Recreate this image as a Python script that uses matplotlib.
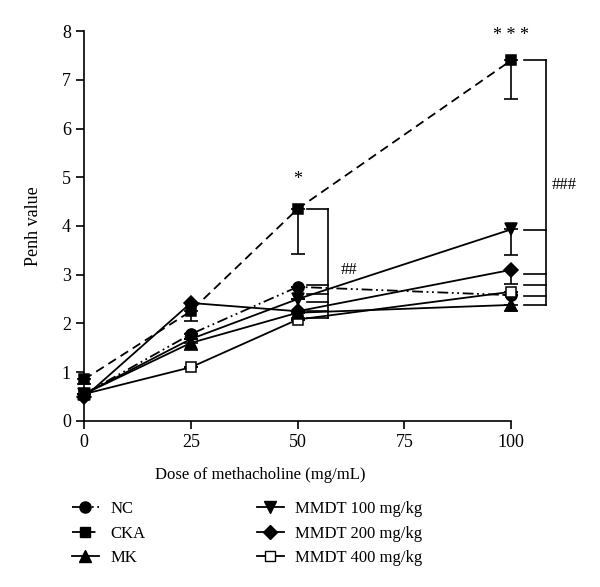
import matplotlib
matplotlib.use("Agg")
import matplotlib.pyplot as plt
from matplotlib.lines import Line2D

plt.rcParams["font.family"] = ["Liberation Serif", "DejaVu Serif"]

# Data
dose = [0, 25, 50, 100]
nc = [0.55, 1.78, 2.75, 2.58]
cka = [0.85, 2.25, 4.35, 7.4]
mk = [0.55, 1.6, 2.22, 2.38]
mmdt100 = [0.55, 1.68, 2.5, 3.93]
mmdt200 = [0.48, 2.42, 2.25, 3.1]
mmdt400 = [0.55, 1.1, 2.08, 2.65]

# lower error bars (SEM)
nc_err = [0.0, 0.1, 0.0, 0.0]
cka_err = [0.1, 0.2, 0.93, 0.8]
mk_err = [0.0, 0.15, 0.1, 0.13]
mmdt100_err = [0.0, 0.0, 0.0, 0.53]
mmdt200_err = [0.0, 0.0, 0.0, 0.3]
mmdt400_err = [0.0, 0.0, 0.0, 0.0]

labels = ["NC", "CKA", "MK", "MMDT 100 mg/kg", "MMDT 200 mg/kg", "MMDT 400 mg/kg"]

# significance brackets
bracket50 = [4.35, 2.78, 2.6, 2.45, 2.25, 2.12]
bracket100 = [7.4, 3.92, 3.02, 2.79, 2.57, 2.37]

fig = plt.figure(figsize=(6.0, 5.87), dpi=100)
ax = fig.add_axes([0.14, 0.283, 0.712, 0.664])

series = [
    (nc, nc_err, "o", "black", (0, (6, 2, 1, 2, 1, 2))),
    (cka, cka_err, "s", "black", (0, (5, 3))),
    (mk, mk_err, "^", "black", "-"),
    (mmdt100, mmdt100_err, "v", "black", "-"),
    (mmdt200, mmdt200_err, "D", "black", "-"),
    (mmdt400, mmdt400_err, "s", "white", "-"),
]
marker_size = {"o": 8, "s": 7.8, "^": 9, "v": 9, "D": 7.5}
# drawing order: open squares underneath, diamonds on top
draw_order = [0, 5, 1, 2, 3, 4]

handles = [None] * len(series)
for z, i in enumerate(draw_order):
    vals, err, mk_, fc, ls = series[i]
    ms = marker_size[mk_]
    ax.errorbar(dose, vals, yerr=[err, [0] * len(err)], fmt="none", ecolor="black",
                elinewidth=1.2, capsize=5, capthick=1.2, clip_on=False, zorder=2)
    ax.plot(dose, vals, linestyle=ls, color="black", lw=1.3, marker=mk_,
            markersize=ms, markerfacecolor=fc, markeredgecolor="black",
            markeredgewidth=1.1, clip_on=False, zorder=3 + z)
    handles[i] = Line2D([], [], linestyle=ls, color="black", lw=1.3, marker=mk_,
                        markersize=ms, markerfacecolor=fc, markeredgecolor="black")


def bracket(vals, x0, x1):
    for v in vals:
        ax.plot([x0, x1], [v, v], color="black", lw=1.2, clip_on=False)
    ax.plot([x1, x1], [min(vals), max(vals)], color="black", lw=1.2, clip_on=False)


bracket(bracket50, 52.2, 57.1)
bracket(bracket100, 103.0, 108.2)

ax.text(50, 4.95, "*", ha="center", va="center", fontsize=13)
ax.text(100, 7.9, "* * *", ha="center", va="center", fontsize=13)
ax.text(62, 3.1, "##", ha="center", va="center", fontsize=12)
ax.text(112.5, 4.85, "###", ha="center", va="center", fontsize=12)

ax.set_xlim(0, 100)
ax.set_ylim(0, 8)
ax.set_xticks([0, 25, 50, 75, 100])
ax.set_yticks(range(0, 9))
ax.spines["top"].set_visible(False)
ax.spines["right"].set_visible(False)
ax.spines["left"].set_linewidth(1.2)
ax.spines["bottom"].set_linewidth(1.2)
ax.tick_params(direction="out", length=6, width=1.2, labelsize=13)
ax.set_xlabel("Dose of methacholine (mg/mL)", fontsize=12)
ax.xaxis.set_label_coords(0.412, -0.118)
ax.set_ylabel("Penh value", fontsize=13, labelpad=14)

fig.legend(handles, labels, loc="upper left", bbox_to_anchor=(0.12, 0.146),
           ncol=2, frameon=False, fontsize=12, handlelength=1.6,
           columnspacing=6.7, labelspacing=0.5, handletextpad=0.7,
           borderpad=0, borderaxespad=0)

fig.savefig("out.png", dpi=100)
